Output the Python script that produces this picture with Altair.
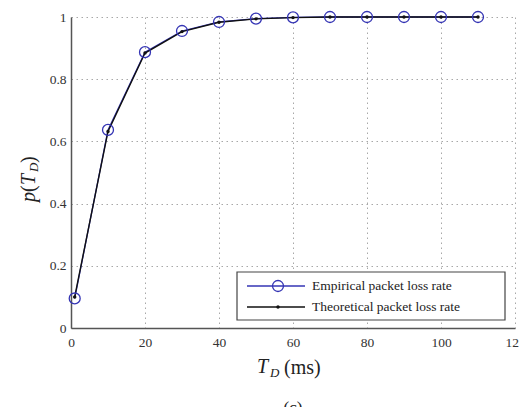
import altair as alt
import pandas as pd

# ---- data ----
td_ms = [1, 10, 20, 30, 40, 50, 60, 70, 80, 90, 100, 110]
empirical = [0.095, 0.637, 0.887, 0.955, 0.984, 0.995, 0.999, 1.0, 1.0, 1.0, 1.0, 1.0]
theoretical = [0.10, 0.632, 0.884, 0.953, 0.983, 0.994, 0.998, 1.0, 1.0, 1.0, 1.0, 1.0]
x_ticks = [0, 20, 40, 60, 80, 100, 120]
y_ticks = [0, 0.2, 0.4, 0.6, 0.8, 1.0]
legend_labels = ["Empirical packet loss rate", "Theoretical packet loss rate"]
panel_label = "(c)"

df = pd.DataFrame({"td": td_ms, "emp": empirical, "theo": theoretical})

SERIF = "Liberation Serif"
BLUE = "#3434b4"
W, H = 444, 311

xsc = alt.Scale(domain=[0, 120], nice=False, zero=False)
ysc = alt.Scale(domain=[0, 1], nice=False)

grid_axis = dict(
    grid=True, gridColor="#a8a8a8", gridDash=[1.5, 3.5], gridWidth=1,
    domainColor="#555555", domainWidth=1.5, ticks=False,
    labelFont=SERIF, labelFontSize=13.5, labelColor="#333333", title=None,
    labelFlush=False,
)

xax = alt.Axis(values=x_ticks, labelPadding=7, **grid_axis)
yax = alt.Axis(values=y_ticks, labelPadding=5, format="~g", **grid_axis)

base = alt.Chart(df)

emp_line = base.mark_line(color=BLUE, strokeWidth=1.3).encode(
    x=alt.X("td:Q", scale=xsc, axis=xax),
    y=alt.Y("emp:Q", scale=ysc, axis=yax),
)
theo_line = base.mark_line(color="#111111", strokeWidth=1.4).encode(
    x=alt.X("td:Q", scale=xsc), y=alt.Y("theo:Q", scale=ysc)
)
emp_pts = base.mark_point(shape="circle", size=120, color=BLUE, strokeWidth=1.3,
                          filled=False, opacity=1).encode(
    x=alt.X("td:Q", scale=xsc), y=alt.Y("emp:Q", scale=ysc)
)
theo_pts = base.mark_point(shape="circle", size=12, color="#111111",
                           filled=True, opacity=1).encode(
    x=alt.X("td:Q", scale=xsc), y=alt.Y("theo:Q", scale=ysc)
)

# ---- legend (manual, MATLAB style) ----
one = alt.Chart(pd.DataFrame({"k": [0]}))
leg_box = one.mark_rect(fill="white", stroke="#444444", strokeWidth=1.2).encode(
    x=alt.value(166), x2=alt.value(434), y=alt.value(255), y2=alt.value(303)
)
leg_rule1 = one.mark_rule(color=BLUE, strokeWidth=1.3).encode(
    x=alt.value(176), x2=alt.value(234), y=alt.value(269)
)
leg_pt1 = one.mark_point(shape="circle", size=120, color=BLUE, strokeWidth=1.3,
                         filled=False, opacity=1).encode(
    x=alt.value(207), y=alt.value(269)
)
leg_rule2 = one.mark_rule(color="#111111", strokeWidth=1.3).encode(
    x=alt.value(176), x2=alt.value(234), y=alt.value(290)
)
leg_pt2 = one.mark_point(shape="circle", size=12, color="#111111",
                         filled=True, opacity=1).encode(
    x=alt.value(207), y=alt.value(290)
)
leg_txt1 = one.mark_text(align="left", baseline="middle", font=SERIF, fontSize=13.5,
                         color="#222222", text=legend_labels[0]).encode(
    x=alt.value(241), y=alt.value(269)
)
leg_txt2 = one.mark_text(align="left", baseline="middle", font=SERIF, fontSize=13.5,
                         color="#222222", text=legend_labels[1]).encode(
    x=alt.value(241), y=alt.value(290)
)

# ---- axis titles ----
def txt(s, x, y, size=19, italic=False, angle=0, align="left"):
    kw = dict(align=align, baseline="alphabetic", font=SERIF, fontSize=size,
              color="#222222", text=s)
    if italic:
        kw["fontStyle"] = "italic"
    if angle:
        kw["angle"] = angle
    return one.mark_text(**kw).encode(x=alt.value(x), y=alt.value(y))

xt_T = txt("T", 186, 356, size=20, italic=True)
xt_D = txt("D", 199, 360, size=13, italic=True)
xt_ms = txt("(ms)", 213, 357, size=20)
panel = txt(panel_label, 222, 396, size=17, align="center")

yt_p = txt("p", -36, 185, size=20, italic=True, angle=270)
yt_o = txt("(", -36, 175, size=20, angle=270)
yt_T = txt("T", -36, 168, size=20, italic=True, angle=270)
yt_D = txt("D", -33, 155, size=13, italic=True, angle=270)
yt_c = txt(")", -36, 146, size=20, angle=270)

chart = alt.layer(
    emp_line, theo_line, emp_pts, theo_pts,
    leg_box, leg_rule1, leg_pt1, leg_rule2, leg_pt2, leg_txt1, leg_txt2,
    xt_T, xt_D, xt_ms, panel, yt_p, yt_o, yt_T, yt_D, yt_c,
).properties(
    width=W, height=H,
    padding={"left": 71, "top": 17, "right": 4, "bottom": 79},
    autosize=alt.AutoSizeParams(type="none"),
    background="white",
).configure_view(stroke=None).configure_axis(
    labelFont=SERIF, labelFontSize=13.5
)

chart.save("out.html", embed_options={"renderer": "svg", "actions": False})
